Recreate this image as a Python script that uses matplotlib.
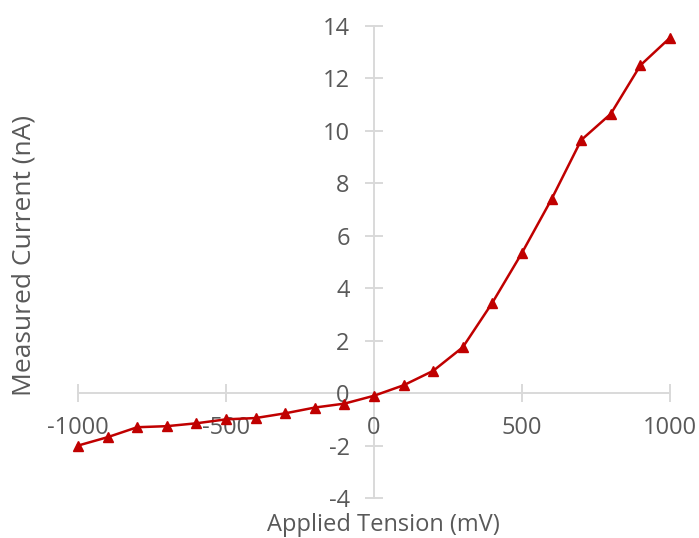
import numpy as np
import matplotlib
matplotlib.use('Agg')
from matplotlib import pyplot as plt

# values
tension = [-1000, -900, -800, -700, -600, -500, -400, -300, -200, -100,
           0, 100, 200, 300, 400, 500, 600, 700, 800, 900, 1000]
current = [-2.0, -1.68, -1.3, -1.26, -1.15, -1.0, -0.95, -0.77, -0.55, -0.4,
           -0.1, 0.3, 0.85, 1.75, 3.45, 5.35, 7.4, 9.65, 10.65, 12.5, 13.55]
xticks = [-1000, -500, 0, 500, 1000]
yticks = [-4, -2, 0, 2, 4, 6, 8, 10, 12, 14]

plt.rcParams['font.family'] = ['Open Sans', 'DejaVu Sans']
plt.rcParams['axes.unicode_minus'] = False
grey = '#595959'
axis_grey = '#d9d9d9'

fig = plt.figure(figsize=(6.99, 5.38), dpi=100)
ax = fig.add_axes([0.1116, 0.0743, 0.8469, 0.8774])

ax.plot(tension, current, color='#C00000', lw=1.8, marker='^', ms=7.5,
        markeredgecolor='#C00000', markerfacecolor='#C00000', clip_on=False)

ax.set_xlim(-1000, 1000)
ax.set_ylim(-4, 14)
ax.set_xticks(xticks)
ax.set_yticks(yticks)

ax.spines['left'].set_position(('data', 0))
ax.spines['bottom'].set_position(('data', 0))
ax.spines['top'].set_visible(False)
ax.spines['right'].set_visible(False)
for s in ['left', 'bottom']:
    ax.spines[s].set_color(axis_grey)
    ax.spines[s].set_linewidth(1.4)
    ax.spines[s].set_zorder(0.5)

ax.tick_params(axis='both', direction='inout', length=13, width=1.4,
               color=axis_grey, labelcolor=grey, labelsize=17)
ax.tick_params(axis='x', pad=10)
ax.tick_params(axis='y', pad=11)

fig.text(0.549, 0.024, 'Applied Tension (mV)', ha='center', va='center',
         fontsize=17, color=grey)
fig.text(0.035, 0.525, 'Measured Current (nA)', ha='center', va='center',
         rotation=90, fontsize=19, color=grey)

fig.savefig('out.png', dpi=100)
